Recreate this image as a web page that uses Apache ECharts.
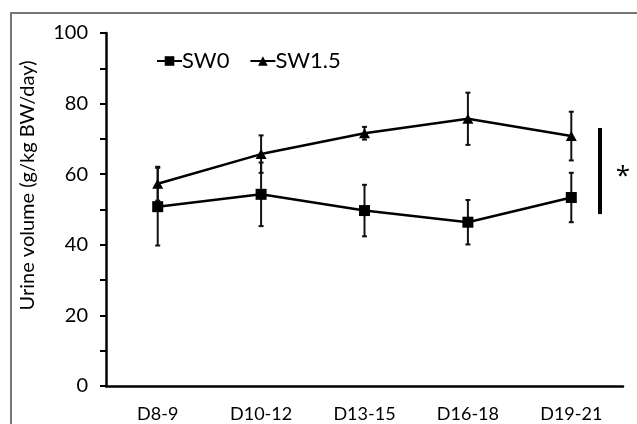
<!DOCTYPE html>
<html>
<head>
<meta charset="UTF-8">
<title>Urine volume</title>
<script src="https://cdn.jsdelivr.net/npm/echarts@6/dist/echarts.min.js"></script>
<style>
  html, body { margin: 0; padding: 0; background: #fff; }
  #frame { position: absolute; left: 10px; top: 12px; right: -2px; bottom: -2px; border: 2px solid #777; }
  #main { width: 637px; height: 424px; position: absolute; left: 0; top: 0; }
</style>
</head>
<body>
<div id="frame"></div>
<div id="main"></div>
<script type="text/javascript">
var categories = ['D8-9', 'D10-12', 'D13-15', 'D16-18', 'D19-21'];
var sw0 = [50.8, 54.3, 49.7, 46.4, 53.4];
var sw0Err = [11, 9, 7.3, 6.3, 7];
var sw15 = [57.3, 65.7, 71.6, 75.7, 70.8];
var sw15Err = [4.8, 5.3, 1.8, 7.4, 6.9];
var sigRange = [48.7, 73.1];   // vertical bar beside the last group

var font = 'Lato, "Open Sans", sans-serif';
var myChart = echarts.init(document.getElementById('main'), null, { renderer: 'canvas' });

function errorSeries(name, vals, errs) {
  var data = vals.map(function (v, i) { return [i, v - errs[i], v + errs[i]]; });
  return {
    name: name,
    type: 'custom',
    z: 1,
    silent: true,
    renderItem: function (params, api) {
      var x = api.value(0);
      var lo = api.coord([x, api.value(1)]);
      var hi = api.coord([x, api.value(2)]);
      var cap = 2.5;
      var style = { stroke: '#111', lineWidth: 2 };
      return {
        type: 'group',
        children: [
          { type: 'line', shape: { x1: lo[0], y1: lo[1], x2: hi[0], y2: hi[1] }, style: style },
          { type: 'line', shape: { x1: lo[0] - cap, y1: lo[1], x2: lo[0] + cap, y2: lo[1] }, style: style },
          { type: 'line', shape: { x1: hi[0] - cap, y1: hi[1], x2: hi[0] + cap, y2: hi[1] }, style: style }
        ]
      };
    },
    data: data
  };
}

option = {
  animation: false,
  grid: { left: 106, right: 14, top: 33, bottom: 38 },
  legend: {
    data: ['SW0', 'SW1.5'],
    left: 151,
    top: 45,
    itemWidth: 25,
    itemHeight: 12,
    itemGap: 20,
    textStyle: { fontFamily: font, fontSize: 22, color: '#000', padding: [0, 0, 0, -5] }
  },
  xAxis: {
    type: 'category',
    data: categories,
    axisLine: { lineStyle: { color: '#000', width: 2.5 } },
    axisTick: { show: false },
    axisLabel: { fontFamily: font, fontSize: 18, color: '#000', margin: 19 }
  },
  yAxis: {
    type: 'value',
    min: 0,
    max: 100,
    interval: 10,
    name: 'Urine volume (g/kg BW/day)',
    nameLocation: 'middle',
    nameGap: 68,
    nameTextStyle: { fontFamily: font, fontSize: 20, color: '#000', padding: [0, 0, 0, 48] },
    axisLine: { show: true, lineStyle: { color: '#000', width: 2.5 } },
    axisTick: { show: true, length: 6, lineStyle: { color: '#000', width: 2 } },
    axisLabel: {
      fontFamily: font, fontSize: 20, color: '#000', margin: 18,
      formatter: function (v) { return v % 20 === 0 ? v : ''; }
    },
    splitLine: { show: false }
  },
  series: [
    errorSeries('SW0 err', sw0, sw0Err),
    errorSeries('SW1.5 err', sw15, sw15Err),
    {
      name: 'SW0',
      type: 'line',
      data: sw0,
      symbol: 'rect',
      symbolSize: 11,
      z: 3,
      itemStyle: { color: '#000' },
      lineStyle: { color: '#000', width: 2.5 }
    },
    {
      name: 'SW1.5',
      type: 'line',
      data: sw15,
      symbol: 'triangle',
      symbolSize: [11, 10],
      z: 3,
      itemStyle: { color: '#000' },
      lineStyle: { color: '#000', width: 2.5 }
    }
  ]
};
myChart.setOption(option);

// significance bar and asterisk, placed from the y scale
var yTop = myChart.convertToPixel({ yAxisIndex: 0 }, sigRange[1]);
var yBot = myChart.convertToPixel({ yAxisIndex: 0 }, sigRange[0]);
myChart.setOption({
  graphic: [
    { type: 'line', shape: { x1: 600, y1: yTop, x2: 600, y2: yBot }, style: { stroke: '#000', lineWidth: 4 } },
    { type: 'text', x: 623, y: (yTop + yBot) / 2 + 6, style: { text: '*', font: '26px "Open Sans", sans-serif', fill: '#000', align: 'center', verticalAlign: 'middle' } }
  ]
});
</script>
</body>
</html>
